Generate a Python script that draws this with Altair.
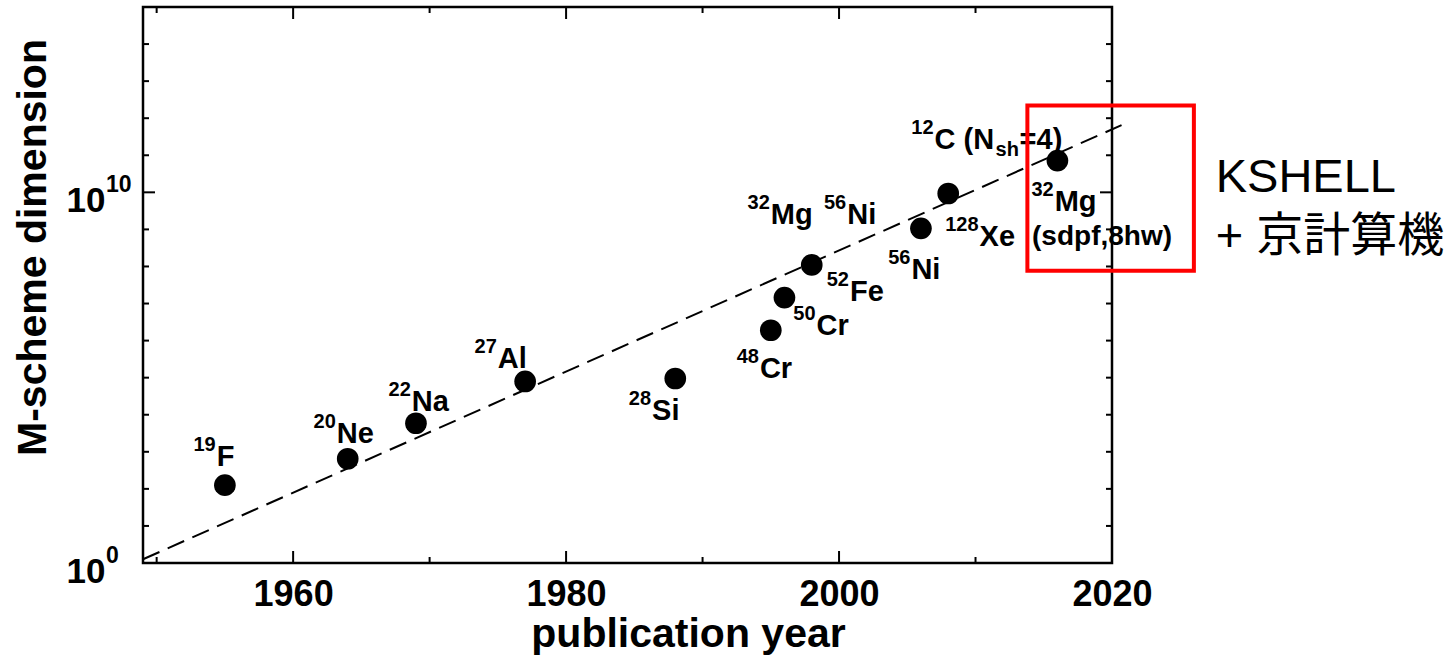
import altair as alt
import pandas as pd

# ---------------- data ----------------
point_years = [1955, 1964, 1969, 1977, 1988, 1995, 1996, 1998, 2006, 2008, 2016]
point_dims = [1.26e2, 6.5e2, 5.9e3, 7.9e4, 9.5e4, 1.9e6, 1.45e7, 1.1e8, 1.07e9, 9.3e9, 7.2e10]

label_mass = ["19", "20", "22", "27", "28", "48", "50", "52", "32", "56", "56", "128", "12", "32"]
label_symbol = ["F", "Ne", "Na", "Al", "Si", "Cr", "Cr", "Fe", "Mg", "Ni", "Ni", "Xe", "C (N", "Mg"]
label_years = [1954.4, 1963.2, 1968.7, 1975.0, 1986.3, 1994.2, 1998.35, 2000.8,
               1995.0, 2000.6, 2005.3, 2010.3, 2007.0, 2015.8]
label_dims = [4.2e2, 1.77e3, 1.3e4, 1.77e5, 7.4e3, 1.0e5, 1.46e6, 1.15e7,
              1.43e9, 1.43e9, 4.7e7, 3.55e8, 1.45e11, 3.1e9]

c12_sub = ["sh"]
c12_tail = ["=4)"]
c12_year = [2007.0]
c12_dim = [1.45e11]

mg_note = ["(sdpf,8hw)"]
mg_note_year = [2014.14]
mg_note_dim = [3.8e8]

fit_years = [1949, 2020.7]
fit_dims = [1.26, 6.5e11]

box_years = [2013.8, 2026.0]
box_dims = [7.7e7, 2.2e12]

side_text = ["KSHELL", "+ 京計算機"]
side_years = [2027.6, 2027.6]
side_dims = [1.0e10, 2.55e8]

x_labels = [1960, 1980, 2000, 2020]
x_major = [1960, 1980, 2000]
x_minor = [1950, 1970, 1990, 2010]
y_label_values = [1, 1e10]
y_label_exps = ["0", "10"]
y_major = [1e10]
y_minor = [1e1, 1e2, 1e3, 1e4, 1e5, 1e6, 1e7, 1e8, 1e9, 1e11, 1e12, 1e13, 1e14]

# ---------------- layout / style ----------------
W, H = 969, 556
FONT = "Liberation Sans, Arial, sans-serif"
CJK = "Liberation Sans, Noto Sans CJK JP, sans-serif"

xscale = alt.Scale(domain=[1949, 2020], nice=False, zero=False)
yscale = alt.Scale(type="log", domain=[1, 1e15], nice=False)

x_axis = alt.Axis(values=x_labels, format="d", ticks=False, tickSize=0, domain=False,
                  grid=False, labelFontSize=36, labelFont=FONT, labelColor="black",
                  labelFontWeight="bold",
                  labelBaseline="alphabetic", labelPadding=42, labelFlush=False,
                  title="publication year", titleFont=FONT, titleFontSize=41,
                  titleFontWeight="bold", titleColor="black", titleX=545, titleY=83,
                  titleBaseline="alphabetic")

y_axis = alt.Axis(values=y_label_values, labelExpr="'10'", ticks=False, tickSize=0,
                  domain=False, grid=False, labelFontSize=35, labelFont=FONT,
                  labelFontWeight="bold",
                  labelColor="black", labelAlign="right", labelBaseline="alphabetic",
                  labelPadding=38, labelOffset=19,
                  title="M-scheme dimension", titleFont=FONT, titleFontSize=41,
                  titleFontWeight="bold", titleColor="black", titleX=-98, titleY=240,
                  titleBaseline="alphabetic")


def X(field="year"):
    return alt.X(field, type="quantitative", scale=xscale, axis=x_axis)


def Y(field="dim"):
    return alt.Y(field, type="quantitative", scale=yscale, axis=y_axis)


points_df = pd.DataFrame({"year": point_years, "dim": point_dims})
labels_df = pd.DataFrame({"year": label_years, "dim": label_dims,
                          "mass": label_mass, "sym": label_symbol})
fit_df = pd.DataFrame({"year": fit_years, "dim": fit_dims})
box_df = pd.DataFrame({"year": [box_years[0]], "year2": [box_years[1]],
                       "dim": [box_dims[0]], "dim2": [box_dims[1]]})
side_df = pd.DataFrame({"year": side_years, "dim": side_dims, "t": side_text})
c12_df = pd.DataFrame({"year": c12_year, "dim": c12_dim, "sub": c12_sub, "tail": c12_tail})
mg_df = pd.DataFrame({"year": mg_note_year, "dim": mg_note_dim, "t": mg_note})
exp_df = pd.DataFrame({"year": [1949, 1949], "dim": y_label_values, "t": y_label_exps})

points = alt.Chart(points_df).mark_circle(size=470, color="black", opacity=1).encode(
    x=X(), y=Y())

fit = alt.Chart(fit_df).mark_line(color="black", strokeWidth=2, strokeDash=[18, 9]).encode(
    x=X(), y=Y())

main_txt = alt.Chart(labels_df).mark_text(
    font=FONT, fontSize=29, fontWeight="bold", align="left", baseline="alphabetic",
    color="black").encode(x=X(), y=Y(), text="sym:N")

sup_txt = alt.Chart(labels_df).mark_text(
    font=FONT, fontSize=20, fontWeight="bold", align="right", baseline="alphabetic",
    color="black", dx=-1, dy=-15).encode(x=X(), y=Y(), text="mass:N")

c12_sub_txt = alt.Chart(c12_df).mark_text(
    font=FONT, fontSize=20, fontWeight="bold", align="left", baseline="alphabetic",
    color="black", dx=61, dy=7).encode(x=X(), y=Y(), text="sub:N")

c12_tail_txt = alt.Chart(c12_df).mark_text(
    font=FONT, fontSize=29, fontWeight="bold", align="left", baseline="alphabetic",
    color="black", dx=85).encode(x=X(), y=Y(), text="tail:N")

mg_txt = alt.Chart(mg_df).mark_text(
    font=FONT, fontSize=28, fontWeight="bold", align="left", baseline="alphabetic",
    color="black").encode(x=X(), y=Y(), text="t:N")

exp_txt = alt.Chart(exp_df).mark_text(
    font=FONT, fontSize=23, fontWeight="bold", align="left", baseline="alphabetic",
    color="black", dx=-37).encode(x=X(), y=Y(), text="t:N")

side_txt = alt.Chart(side_df).mark_text(
    font=CJK, fontSize=47, align="left", baseline="alphabetic", color="black").encode(
    x=X(), y=Y(), text="t:N")


def x_ticks(vals, length):
    base = alt.Chart(pd.DataFrame({"year": vals}))
    bottom = base.mark_rule(color="black", strokeWidth=2).encode(
        x=X(), y=alt.value(H), y2=alt.value(H - length))
    top = base.mark_rule(color="black", strokeWidth=2).encode(
        x=X(), y=alt.value(0), y2=alt.value(length))
    return [bottom, top]


def y_ticks(vals, length):
    base = alt.Chart(pd.DataFrame({"dim": vals}))
    left = base.mark_rule(color="black", strokeWidth=2).encode(
        y=Y(), x=alt.value(0), x2=alt.value(length))
    right = base.mark_rule(color="black", strokeWidth=2).encode(
        y=Y(), x=alt.value(W), x2=alt.value(W - length))
    return [left, right]


box = alt.Chart(box_df).mark_rect(fillOpacity=0, stroke="#ff0000", strokeWidth=4).encode(
    x=X("year"), x2="year2", y=Y("dim"), y2="dim2")

layers = [points, fit]
layers += x_ticks(x_major, 12) + x_ticks(x_minor, 6)
layers += y_ticks(y_major, 12) + y_ticks(y_minor, 6)
layers += [main_txt, sup_txt, c12_sub_txt, c12_tail_txt, mg_txt, exp_txt, side_txt, box]

chart = alt.layer(*layers).properties(
    width=W, height=H,
    autosize=alt.AutoSizeParams(type="none"),
    padding={"left": 143, "top": 7, "right": 1456 - 143 - W, "bottom": 658 - 7 - H},
    background="white",
).configure_view(stroke="black", strokeWidth=2.5)

chart.save("out.html", embed_options={"renderer": "svg", "actions": False})
